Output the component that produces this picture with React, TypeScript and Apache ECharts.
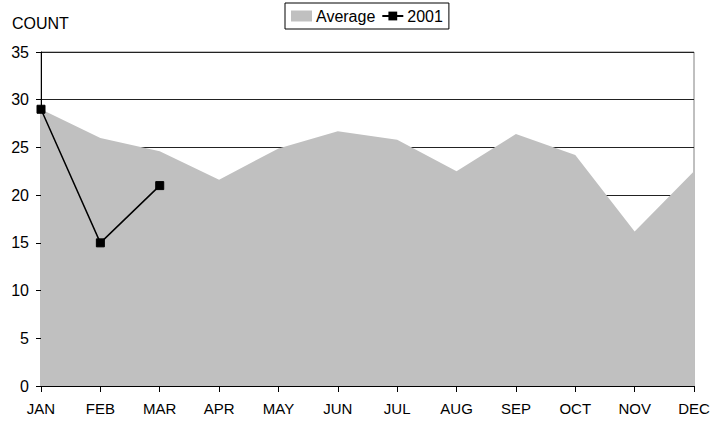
import React, { useEffect, useRef } from "react";
import * as echarts from "echarts";

const months = ["JAN", "FEB", "MAR", "APR", "MAY", "JUN", "JUL", "AUG", "SEP", "OCT", "NOV", "DEC"];
const averageValues = [29, 26.0, 24.6, 21.6, 24.9, 26.7, 25.8, 22.5, 26.4, 24.2, 16.2, 22.5];
const values2001: (number | null)[] = [29, 15, 21, null, null, null, null, null, null, null, null, null];
const yTicks = { min: 0, max: 35, interval: 5 };

const FONT = "'Liberation Sans', Arial, sans-serif";

export default function App() {
  const ref = useRef<HTMLDivElement>(null);
  useEffect(() => {
    if (!ref.current) return;
    const chart = echarts.init(ref.current, null, { renderer: "svg" });
    chart.setOption({
      animation: false,
      backgroundColor: "#ffffff",
      textStyle: { fontFamily: FONT, color: "#000" },
      grid: {
        left: 41,
        right: 32,
        top: 52,
        bottom: 37,
        show: true,
        borderColor: "#808080",
        borderWidth: 1,
        backgroundColor: "transparent",
      },
      legend: {
        left: 285,
        top: 3,
        padding: [5, 6, 5, 6],
        borderColor: "#000",
        borderWidth: 1,
        itemWidth: 21,
        itemHeight: 11,
        itemGap: 6,
        textStyle: { fontFamily: FONT, fontSize: 16, color: "#000", padding: [0, 0, 0, -1] },
        data: [
          { name: "Average", icon: "rect" },
          { name: "2001" },
        ],
      },
      graphic: [
        {
          type: "text",
          left: 12,
          top: 15,
          style: { text: "COUNT", fontFamily: FONT, fontSize: 16, fill: "#000" },
        },
      ],
      xAxis: {
        type: "category",
        data: months,
        boundaryGap: false,
        axisLine: { lineStyle: { color: "#000", width: 1 } },
        axisTick: { show: true, length: 6, lineStyle: { color: "#000" } },
        axisLabel: { fontFamily: FONT, fontSize: 15, color: "#000", margin: 15 },
        splitLine: { show: false },
      },
      yAxis: {
        type: "value",
        min: yTicks.min,
        max: yTicks.max,
        interval: yTicks.interval,
        axisLine: { show: true, lineStyle: { color: "#000", width: 1 } },
        axisTick: { show: true, length: 5, lineStyle: { color: "#000" } },
        axisLabel: { fontFamily: FONT, fontSize: 16, color: "#000", margin: 12 },
        splitLine: { show: true, lineStyle: { color: "#222", width: 1 } },
      },
      series: [
        {
          name: "Average",
          type: "line",
          data: averageValues,
          symbol: "none",
          lineStyle: { width: 0, color: "#c0c0c0" },
          itemStyle: { color: "#c0c0c0" },
          areaStyle: { color: "#c0c0c0", opacity: 1 },
          z: 2,
        },
        {
          name: "2001",
          type: "line",
          data: values2001,
          symbol: "rect",
          symbolSize: 8,
          connectNulls: false,
          lineStyle: { width: 1.5, color: "#000" },
          itemStyle: { color: "#000", borderColor: "#000" },
          z: 3,
        },
      ],
    });
    return () => chart.dispose();
  }, []);
  return (
    <div
      ref={ref}
      style={{ position: "fixed", left: 0, top: 0, width: 726, height: 423 }}
    />
  );
}
